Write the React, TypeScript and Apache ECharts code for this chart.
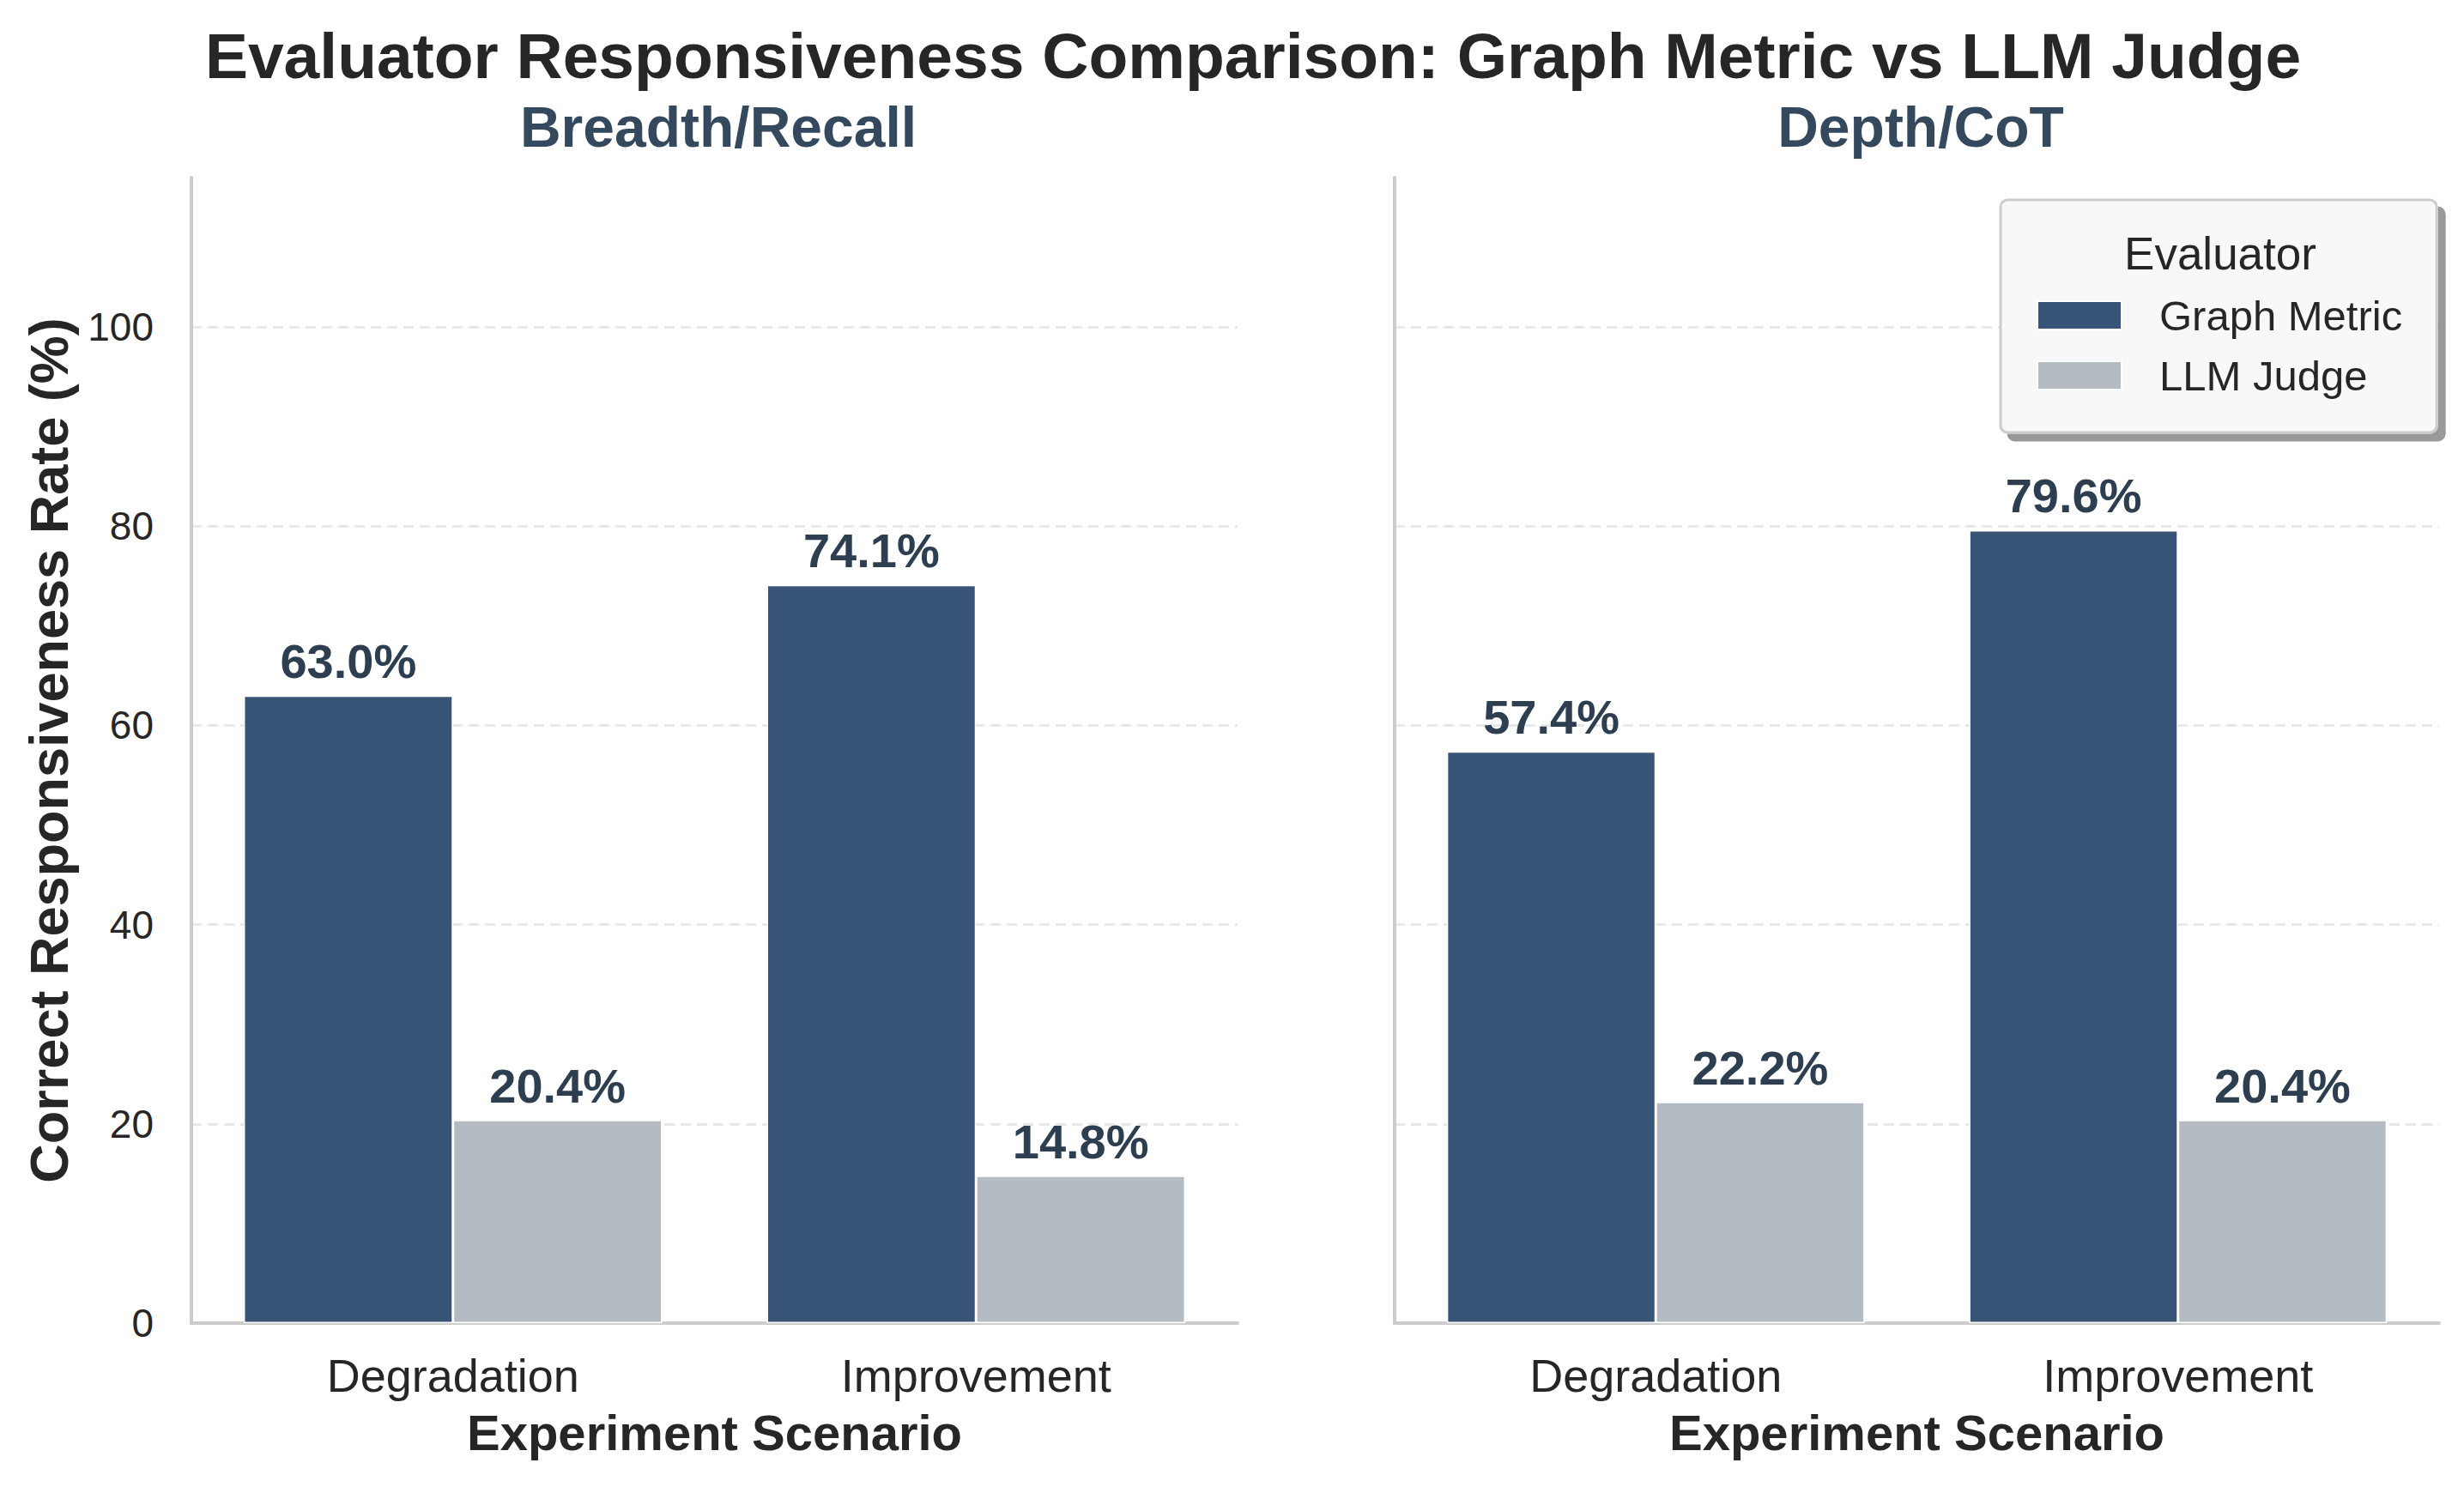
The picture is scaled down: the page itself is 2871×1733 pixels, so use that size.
import React, { useEffect, useRef } from 'react';
import * as echarts from 'echarts';

const categories = ['Degradation', 'Improvement'];
const breadthGraph = [63.0, 74.1];
const breadthLLM = [20.4, 14.8];
const depthGraph = [57.4, 79.6];
const depthLLM = [22.2, 20.4];
const panelTitles = ['Breadth/Recall', 'Depth/CoT'];
const seriesNames = ['Graph Metric', 'LLM Judge'];

const FONT = "'Liberation Sans', Arial, Helvetica, sans-serif";
const DARK = '#385476';
const LIGHT = '#b4bbc2';
const TEXT = '#262626';
const LABEL = '#2c3e50';
const GRID = '#e8e8e8';

const W = 2871;
const H = 1733;

const App: React.FC = () => {
    const chartRef = useRef<HTMLDivElement>(null);

    useEffect(() => {
        if (!chartRef.current) return;
        document.body.style.margin = '0';
        const chart = echarts.init(chartRef.current, null, { renderer: 'svg' });

        const grids = [
            { left: 223, right: W - 1442, top: 207, bottom: H - 1542 },
            { left: 1625, right: W - 2842, top: 207, bottom: H - 1542 },
        ];

        const xAxes = grids.map((_, i) => ({
            type: 'category' as const,
            gridIndex: i,
            data: categories,
            name: 'Experiment Scenario',
            nameLocation: 'middle' as const,
            nameGap: 98,
            nameTextStyle: { fontFamily: FONT, fontSize: 58, fontWeight: 'bold', color: TEXT },
            axisLine: { show: true, lineStyle: { color: '#cccccc', width: 4 } },
            axisTick: { show: false },
            axisLabel: { fontFamily: FONT, fontSize: 54, color: TEXT, margin: 34 },
            splitLine: { show: false },
        }));

        // one colour per tick line: 0 and the 115 top are left blank
        const gridColors = ['rgba(0,0,0,0)', GRID, GRID, GRID, GRID, GRID, 'rgba(0,0,0,0)'];

        const yAxes = grids.map((_, i) => ({
            type: 'value' as const,
            gridIndex: i,
            min: 0,
            max: 115,
            interval: 20,
            name: i === 0 ? 'Correct Responsiveness Rate (%)' : '',
            nameLocation: 'middle' as const,
            nameGap: 135,
            nameTextStyle: { fontFamily: FONT, fontSize: 63, fontWeight: 'bold', color: TEXT },
            axisLine: { show: true, lineStyle: { color: '#cccccc', width: 4 } },
            axisTick: { show: false },
            axisLabel: {
                show: i === 0,
                fontFamily: FONT,
                fontSize: 46,
                color: TEXT,
                margin: 44,
                showMaxLabel: false,
            },
            splitLine: {
                show: true,
                lineStyle: { color: gridColors, width: 3, type: [12, 7] },
            },
        }));

        const valueLabel = {
            show: true,
            position: 'top' as const,
            distance: 12,
            fontFamily: FONT,
            fontSize: 56,
            fontWeight: 'bold' as const,
            color: LABEL,
            formatter: (p: any) => `${Number(p.value).toFixed(1)}%`,
        };

        const makeBar = (name: string, data: number[], color: string, idx: number) => ({
            type: 'bar' as const,
            name,
            xAxisIndex: idx,
            yAxisIndex: idx,
            data,
            barGap: '0%',
            barCategoryGap: '20%',
            itemStyle: { color, borderColor: '#ffffff', borderWidth: 1.5 },
            label: valueLabel,
        });

        const option: echarts.EChartsOption = {
            animation: false,
            backgroundColor: '#ffffff',
            title: [
                {
                    text: 'Evaluator Responsiveness Comparison: Graph Metric vs LLM Judge',
                    left: 1455,
                    textAlign: 'center',
                    top: 22,
                    textStyle: { fontFamily: FONT, fontSize: 75, fontWeight: 'bold', color: TEXT },
                },
                ...panelTitles.map((t, i) => ({
                    text: t,
                    left: i === 0 ? 832 : 2233,
                    textAlign: 'center' as const,
                    top: 110,
                    textStyle: { fontFamily: FONT, fontSize: 66, fontWeight: 'bold' as const, color: '#34495e' },
                })),
            ],
            grid: grids,
            xAxis: xAxes,
            yAxis: yAxes,
            legend: {
                data: seriesNames,
                orient: 'vertical',
                left: 2331,
                top: 233,
                width: 510,
                padding: [110, 40, 42, 42],
                itemWidth: 98,
                itemHeight: 33,
                itemGap: 21,
                icon: 'rect',
                backgroundColor: '#f8f8f8',
                borderColor: '#cccccc',
                borderWidth: 3,
                borderRadius: 8,
                shadowColor: 'rgba(0,0,0,0.4)',
                shadowBlur: 0,
                shadowOffsetX: 9,
                shadowOffsetY: 9,
                textStyle: { fontFamily: FONT, fontSize: 49, color: TEXT, padding: [0, 0, 0, 39] },
            },
            graphic: [
                {
                    type: 'text',
                    x: 2587,
                    y: 295,
                    z: 100,
                    style: {
                        text: 'Evaluator',
                        fontFamily: FONT,
                        fontSize: 53,
                        fill: TEXT,
                        align: 'center',
                        verticalAlign: 'middle',
                    },
                },
            ],
            series: [
                makeBar(seriesNames[0], breadthGraph, DARK, 0),
                makeBar(seriesNames[1], breadthLLM, LIGHT, 0),
                makeBar(seriesNames[0], depthGraph, DARK, 1),
                makeBar(seriesNames[1], depthLLM, LIGHT, 1),
            ],
        };

        chart.setOption(option);

        return () => {
            chart.dispose();
        };
    }, []);

    return (
        <div
            ref={chartRef}
            style={{ position: 'fixed', left: 0, top: 0, width: W, height: H, background: '#fff' }}
        />
    );
};

export default App;
